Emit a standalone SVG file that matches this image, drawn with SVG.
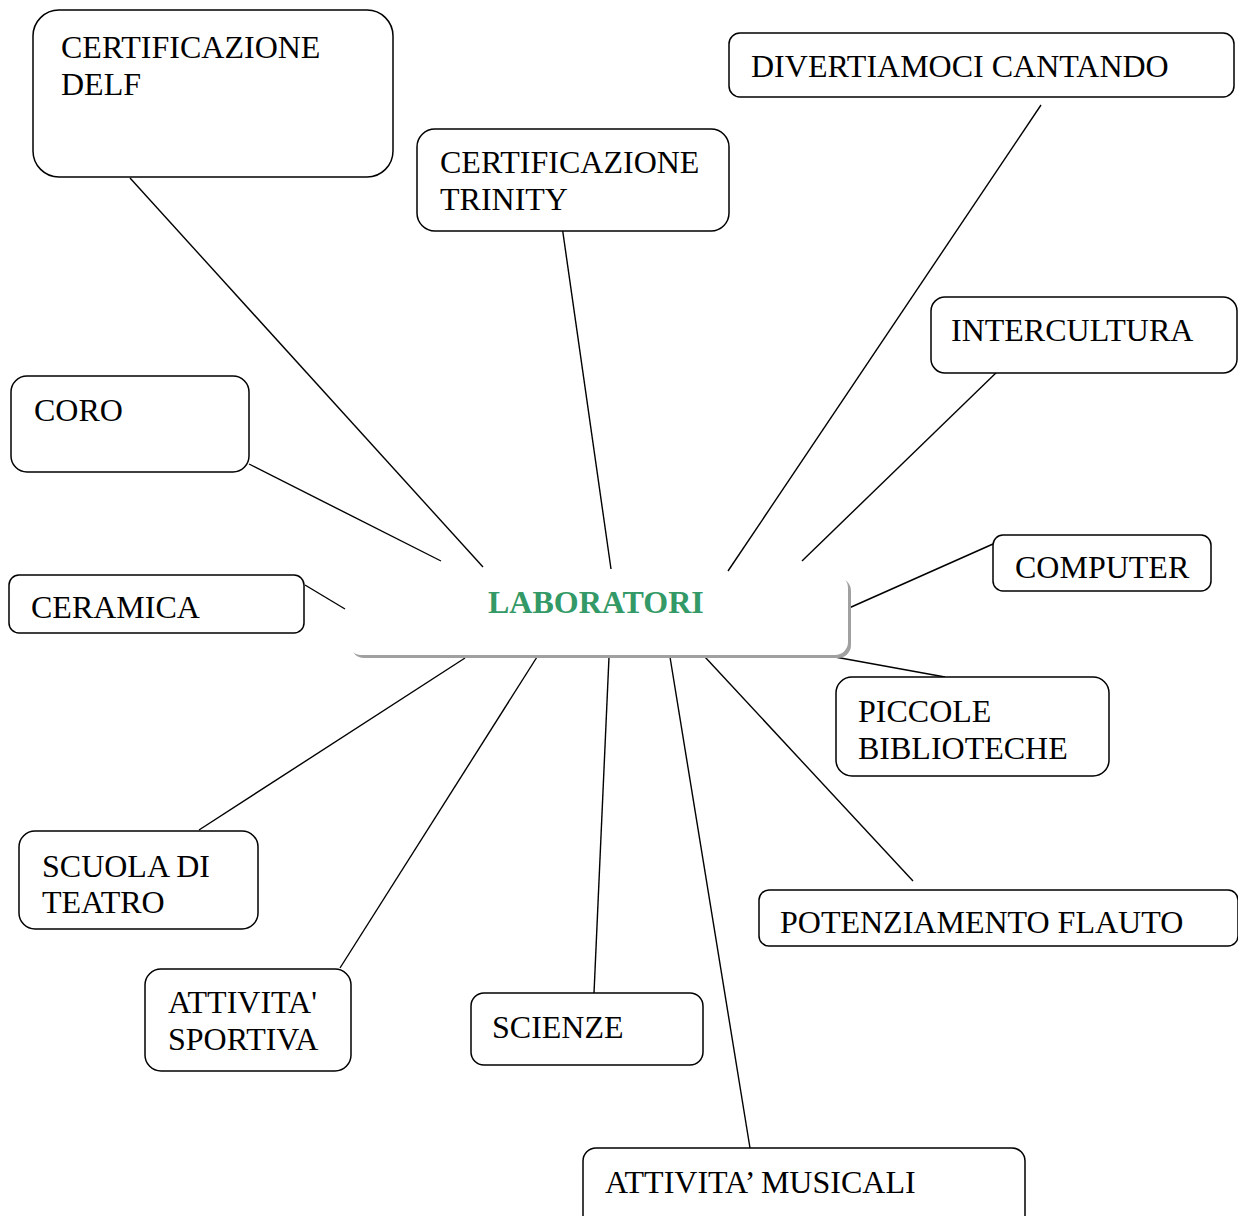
<svg xmlns="http://www.w3.org/2000/svg" width="1238" height="1216" viewBox="0 0 1238 1216">
<style>
.box{fill:#fff;stroke:#000;stroke-width:1.5}
.t{font-family:"Liberation Serif","Times New Roman",serif;font-size:32px;fill:#000}
.c{stroke:#000;stroke-width:1.4;fill:none}
.main{font-family:"Liberation Serif","Times New Roman",serif;font-size:32px;font-weight:bold;fill:#339966}
</style>
<rect width="1238" height="1216" fill="#fff"/>
<g id="connectors">
<line class="c" x1="130" y1="178" x2="483" y2="567"/>
<line class="c" x1="562" y1="226" x2="611" y2="569"/>
<line class="c" x1="1041" y1="105" x2="728" y2="571"/>
<line class="c" x1="999" y1="370" x2="802" y2="561"/>
<line class="c" x1="249" y1="464" x2="441" y2="561"/>
<line class="c" x1="993" y1="544" x2="849" y2="608"/>
<line class="c" x1="305" y1="585" x2="345" y2="609"/>
<line class="c" x1="835" y1="657" x2="945" y2="677"/>
<line class="c" x1="199" y1="830" x2="465" y2="658"/>
<line class="c" x1="340" y1="968" x2="537" y2="657"/>
<line class="c" x1="594" y1="993" x2="609" y2="657"/>
<line class="c" x1="750" y1="1148" x2="670" y2="657"/>
<line class="c" x1="913" y1="881" x2="705" y2="657"/>
</g>
<g id="laboratori">
<rect x="351" y="578" width="500" height="80" rx="13" fill="#a0a0a0"/>
<rect x="348" y="575" width="500" height="80" rx="13" fill="#fff"/>
<text class="main" x="488" y="613">LABORATORI</text>
</g>
<g id="delf">
<rect class="box" x="33" y="10" width="360" height="167" rx="26"/>
<text class="t" x="61" y="58">CERTIFICAZIONE</text>
<text class="t" x="61" y="95">DELF</text>
</g>
<g id="trinity">
<rect class="box" x="417" y="129" width="312" height="102" rx="18"/>
<text class="t" x="440" y="173">CERTIFICAZIONE</text>
<text class="t" x="440" y="210">TRINITY</text>
</g>
<g id="divertiamoci">
<rect class="box" x="729" y="33" width="505" height="64" rx="11"/>
<text class="t" x="751" y="77">DIVERTIAMOCI CANTANDO</text>
</g>
<g id="intercultura">
<rect class="box" x="931" y="297" width="306" height="76" rx="14"/>
<text class="t" x="951" y="341">INTERCULTURA</text>
</g>
<g id="coro">
<rect class="box" x="11" y="376" width="238" height="96" rx="16"/>
<text class="t" x="34" y="421">CORO</text>
</g>
<g id="computer">
<rect class="box" x="993" y="535" width="218" height="56" rx="10"/>
<text class="t" x="1015" y="578">COMPUTER</text>
</g>
<g id="ceramica">
<rect class="box" x="9" y="575" width="295" height="58" rx="10"/>
<text class="t" x="31" y="618">CERAMICA</text>
</g>
<g id="piccole">
<rect class="box" x="836" y="677" width="273" height="99" rx="16"/>
<text class="t" x="858" y="722">PICCOLE</text>
<text class="t" x="858" y="759">BIBLIOTECHE</text>
</g>
<g id="scuola">
<rect class="box" x="19" y="831" width="239" height="98" rx="16"/>
<text class="t" x="42" y="877">SCUOLA DI</text>
<text class="t" x="42" y="913">TEATRO</text>
</g>
<g id="flauto">
<rect class="box" x="759" y="890" width="479" height="56" rx="10"/>
<text class="t" x="780" y="933">POTENZIAMENTO FLAUTO</text>
</g>
<g id="sportiva">
<rect class="box" x="145" y="969" width="206" height="102" rx="16"/>
<text class="t" x="168" y="1013">ATTIVITA'</text>
<text class="t" x="168" y="1050">SPORTIVA</text>
</g>
<g id="scienze">
<rect class="box" x="471" y="993" width="232" height="72" rx="13"/>
<text class="t" x="492" y="1038">SCIENZE</text>
</g>
<g id="musicali">
<rect class="box" x="583" y="1148" width="442" height="80" rx="13"/>
<text class="t" x="605" y="1193">ATTIVITA’ MUSICALI</text>
</g>
</svg>
